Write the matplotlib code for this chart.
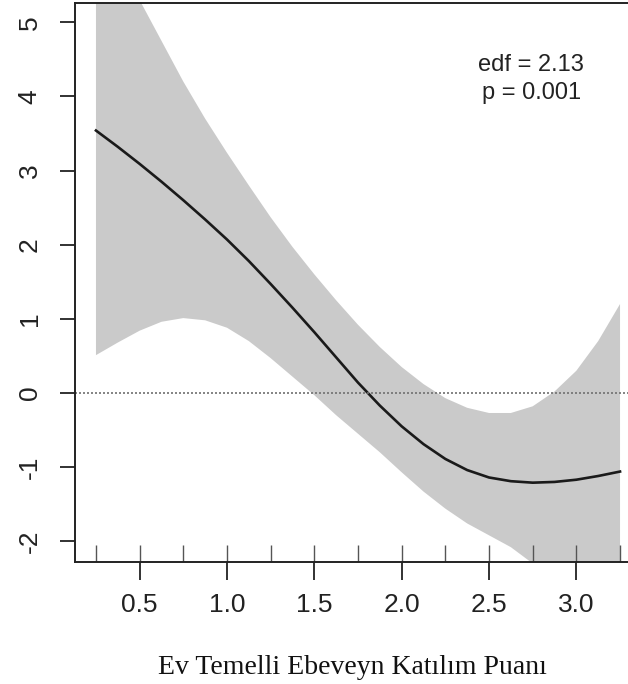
import numpy as np
import matplotlib
matplotlib.use("Agg")
import matplotlib.pyplot as plt

# smooth term
x = [0.25, 0.375, 0.5, 0.625, 0.75, 0.875, 1.0, 1.125, 1.25, 1.375, 1.5, 1.625,
     1.75, 1.875, 2.0, 2.125, 2.25, 2.375, 2.5, 2.625, 2.75, 2.875, 3.0, 3.125, 3.25]
fit = [3.54, 3.32, 3.09, 2.85, 2.60, 2.34, 2.07, 1.78, 1.47, 1.15, 0.82, 0.48,
       0.14, -0.17, -0.45, -0.69, -0.89, -1.04, -1.14, -1.19, -1.21, -1.20, -1.17, -1.12, -1.06]
upper = [6.8, 6.0, 5.3, 4.75, 4.2, 3.7, 3.24, 2.8, 2.37, 1.97, 1.6, 1.25,
         0.92, 0.62, 0.35, 0.12, -0.07, -0.2, -0.27, -0.27, -0.18, 0.02, 0.3, 0.7, 1.2]
lower = [0.51, 0.68, 0.84, 0.96, 1.01, 0.98, 0.88, 0.70, 0.47, 0.22, -0.03, -0.30,
         -0.55, -0.80, -1.07, -1.33, -1.56, -1.76, -1.92, -2.08, -2.30, -2.55, -2.85, -3.2, -3.6]
rug = [0.25, 0.5, 0.75, 1.0, 1.25, 1.5, 1.75, 2.0, 2.25, 2.5, 2.75, 3.0, 3.25]

xticks = [0.5, 1.0, 1.5, 2.0, 2.5, 3.0]
yticks = [-2, -1, 0, 1, 2, 3, 4, 5]
stats_text = "edf = 2.13\np = 0.001"
xlabel = "Ev Temelli Ebeveyn Katılım Puanı"

plt.rcParams['font.family'] = ['Liberation Sans', 'DejaVu Sans']

fig = plt.figure(figsize=(6.28, 6.84), dpi=100)
ax = fig.add_axes([75 / 628, 1 - 562 / 684, 566 / 628, 559 / 684])

ax.fill_between(x, lower, upper, color='#cacaca', lw=0)
ax.plot(x, fit, color='#1a1a1a', lw=1.9)
ax.axhline(0, color='#707070', lw=1.2, ls=(0, (1.2, 1.2)))
ax.vlines(rug, 0, 0.03, transform=ax.get_xaxis_transform(), color='#555555', lw=1.0)

ax.set_xlim(0.13, 3.37)
ax.set_ylim(-2.28, 5.26)

ax.set_xticks(xticks)
ax.set_xticklabels([f"{v:.1f}" for v in xticks])
ax.set_yticks(yticks)
ax.set_yticklabels([str(v) for v in yticks], rotation=90, va='center')
ax.tick_params(axis='x', length=13, width=1.3, pad=9, labelsize=19, colors='#222222')
ax.tick_params(axis='y', length=11, width=1.3, pad=13, labelsize=19, colors='#222222')

for s in ax.spines.values():
    s.set_linewidth(1.4)
    s.set_color('#222222')

ax.text(0.806, 0.864, stats_text, transform=ax.transAxes, ha='center', va='center',
        fontsize=17, color='#222222', linespacing=1.35)

fig.text(0.562, 1 - 668 / 684, xlabel, ha='center', va='center', fontsize=20,
         family=['Liberation Serif', 'DejaVu Serif'], color='#111111')

fig.savefig("out.png", dpi=100)
